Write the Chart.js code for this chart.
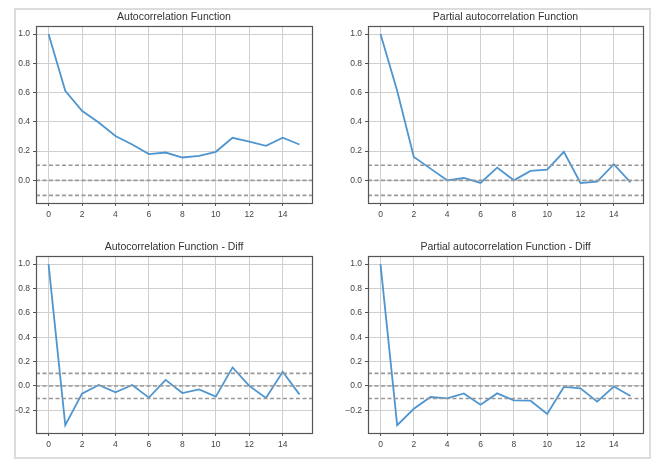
<!DOCTYPE html>
<html>
<head>
<meta charset="utf-8">
<script src="https://cdn.jsdelivr.net/npm/chart.js@4.4.0/dist/chart.umd.min.js"></script>
<style>
  html, body { margin: 0; padding: 0; background: #fff; overflow: hidden; }
  #page { position: relative; width: 657px; height: 461px; }
  #frame { position: absolute; left: 14px; top: 8px; width: 637px; height: 451px; box-sizing: border-box; border: 2px solid #dcdcdc; }
  canvas { position: absolute; }
</style>
</head>
<body>
<div id="page">
  <div id="frame"></div>
  <canvas id="acf" width="328" height="230" style="left:0;top:0"></canvas>
  <canvas id="pacf" width="329" height="230" style="left:328px;top:0"></canvas>
  <canvas id="acf-diff" width="328" height="231" style="left:0;top:230px"></canvas>
  <canvas id="pacf-diff" width="329" height="231" style="left:328px;top:230px"></canvas>
</div>
<script>
// lags 0..15
var lags = [0, 1, 2, 3, 4, 5, 6, 7, 8, 9, 10, 11, 12, 13, 14, 15];
var xTicks = [0, 2, 4, 6, 8, 10, 12, 14];
var yTicksTop = [0, 0.2, 0.4, 0.6, 0.8, 1.0];
var yTicksBottom = [-0.2, 0, 0.2, 0.4, 0.6, 0.8, 1.0];
var confLevels = [0.103, 0, -0.103];

var acfValues = [1.0, 0.612, 0.475, 0.395, 0.303, 0.245, 0.179, 0.19, 0.156, 0.167, 0.195, 0.291, 0.264, 0.236, 0.291, 0.245];
var pacfValues = [1.0, 0.612, 0.16, 0.08, 0.0, 0.016, -0.018, 0.087, 0.0, 0.064, 0.073, 0.195, -0.018, -0.009, 0.11, -0.014];
var acfDiffValues = [1.0, -0.322, -0.063, 0.008, -0.052, 0.008, -0.096, 0.05, -0.058, -0.028, -0.088, 0.152, 0.0, -0.099, 0.116, -0.069];
var pacfDiffValues = [1.0, -0.322, -0.187, -0.091, -0.102, -0.061, -0.154, -0.061, -0.118, -0.121, -0.229, -0.008, -0.019, -0.129, -0.005, -0.083];

// axis limits (matplotlib style 5% margins)
var xRange = [-0.75, 15.75];
var yRangeTop = [-0.155, 1.055];
var yRangeBottom = [-0.386, 1.066];

var fonte = 'Liberation Sans, Arial, sans-serif';

// moldura completa do eixo (spines)
var molduraPlugin = {
    id: 'moldura',
    afterDraw: function (chart) {
        var a = chart.chartArea;
        var ctx = chart.ctx;
        ctx.save();
        ctx.strokeStyle = '#555';
        ctx.lineWidth = 1.2;
        ctx.strokeRect(Math.round(a.left) + 0.5, Math.round(a.top) + 0.5, Math.round(a.right - a.left), Math.round(a.bottom - a.top));
        ctx.restore();
    }
};

function criaGrafico(id, titulo, valores, yTicks, yRange, yWidth, padRight, xHeight, usaMenos) {
    var ctx = document.getElementById(id).getContext('2d');
    var datasets = [];
    confLevels.forEach(function (c) {
        datasets.push({
            data: [{ x: xRange[0], y: c }, { x: xRange[1], y: c }],
            borderColor: '#999',
            borderWidth: 1.6,
            borderDash: [4, 2.5],
            pointRadius: 0,
            order: 0
        });
    });
    datasets.push({
        data: lags.map(function (l, i) { return { x: l, y: valores[i] }; }),
        borderColor: '#4f95cf',
        borderWidth: 1.8,
        pointRadius: 0,
        tension: 0,
        order: 1
    });

    return new Chart(ctx, {
        type: 'line',
        data: { datasets: datasets },
        options: {
            responsive: false,
            animation: false,
            devicePixelRatio: 1,
            layout: { padding: { left: 0, right: padRight, top: 0, bottom: 0 } },
            plugins: {
                legend: { display: false },
                tooltip: { enabled: false },
                title: {
                    display: true,
                    text: titulo,
                    fullSize: false,
                    color: '#333',
                    font: { family: fonte, size: 10.5, weight: 'normal' },
                    padding: { top: 11, bottom: 2.4 }
                }
            },
            scales: {
                x: {
                    type: 'linear',
                    min: xRange[0],
                    max: xRange[1],
                    afterBuildTicks: function (scale) {
                        scale.ticks = xTicks.map(function (v) { return { value: v }; });
                    },
                    afterFit: function (scale) { scale.height = xHeight; },
                    ticks: {
                        color: '#444',
                        font: { family: fonte, size: 8.5 },
                        padding: 4,
                        maxRotation: 0,
                        callback: function (v) { return String(v); }
                    },
                    grid: { color: '#cfcfcf', tickColor: '#555', tickLength: 3, lineWidth: 1 },
                    border: { display: true, color: '#555' }
                },
                y: {
                    type: 'linear',
                    min: yRange[0],
                    max: yRange[1],
                    afterBuildTicks: function (scale) {
                        scale.ticks = yTicks.map(function (v) { return { value: v }; });
                    },
                    afterFit: function (scale) { scale.width = yWidth; },
                    ticks: {
                        color: '#444',
                        font: { family: fonte, size: 8.5 },
                        padding: 3,
                        callback: function (v) {
                            var s = Number(v).toFixed(1);
                            return usaMenos ? s.replace('-', '\u2212') : s;
                        }
                    },
                    grid: { color: '#cfcfcf', tickColor: '#555', tickLength: 3, lineWidth: 1 },
                    border: { display: true, color: '#555' }
                }
            }
        },
        plugins: [molduraPlugin]
    });
}

criaGrafico('acf', 'Autocorrelation Function', acfValues, yTicksTop, yRangeTop, 36, 16, 27, false);
criaGrafico('pacf', 'Partial autocorrelation Function', pacfValues, yTicksTop, yRangeTop, 40, 14, 27, false);
criaGrafico('acf-diff', 'Autocorrelation Function - Diff', acfDiffValues, yTicksBottom, yRangeBottom, 36, 16, 28, false);
criaGrafico('pacf-diff', 'Partial autocorrelation Function - Diff', pacfDiffValues, yTicksBottom, yRangeBottom, 40, 14, 28, true);
</script>
</body>
</html>
